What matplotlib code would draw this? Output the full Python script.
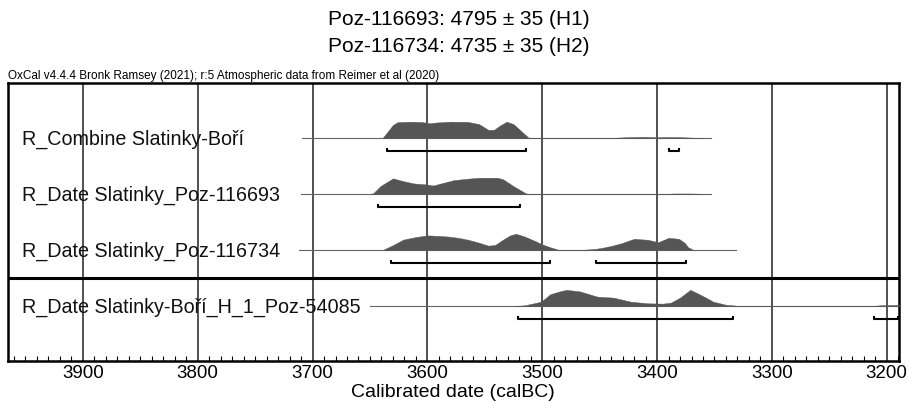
import matplotlib.pyplot as plt
from matplotlib.ticker import MultipleLocator

plt.rcParams["font.family"] = ["Liberation Sans", "DejaVu Sans"]

# Row labels (top to bottom)
labels = [
    "R_Combine Slatinky-Boří",
    "R_Date Slatinky_Poz-116693",
    "R_Date Slatinky_Poz-116734",
    "R_Date Slatinky-Boří_H_1_Poz-54085",
]

# Probability curves: calendar years BC and relative height
years_1 = [3639, 3635, 3630, 3626, 3615, 3605, 3598, 3592, 3580, 3565, 3555, 3547, 3542, 3537, 3531,
           3525, 3518, 3512, 3505, 3440, 3425, 3410, 3400, 3390, 3380, 3370, 3360]
dens_1 = [0, 0.35, 0.8, 0.97, 1.0, 0.98, 0.9, 0.95, 1.0, 0.99, 0.85, 0.5, 0.5, 0.75, 1.0,
          0.85, 0.4, 0.02, 0, 0, 0.05, 0.07, 0.04, 0.06, 0.05, 0.02, 0]

years_2 = [3650, 3647, 3641, 3630, 3621, 3612, 3600, 3595, 3588, 3577, 3565, 3554, 3539, 3534,
           3525, 3514, 3508, 3395, 3385, 3370, 3355]
dens_2 = [0, 0.05, 0.48, 0.96, 0.79, 0.65, 0.58, 0.52, 0.65, 0.85, 0.94, 1.0, 1.0, 0.9,
          0.48, 0.03, 0, 0, 0.03, 0.03, 0]

years_3 = [3639, 3630, 3621, 3610, 3600, 3590, 3582, 3573, 3565, 3555, 3547, 3541, 3535, 3528,
           3523, 3516, 3507, 3500, 3493, 3486, 3480, 3466, 3455, 3449, 3440, 3431, 3420, 3408,
           3399, 3390, 3381, 3376, 3373, 3368]
dens_3 = [0, 0.3, 0.64, 0.8, 0.9, 0.87, 0.83, 0.75, 0.64, 0.45, 0.27, 0.31, 0.6, 0.9,
          1.0, 0.85, 0.58, 0.35, 0.17, 0.02, 0, 0.01, 0.06, 0.12, 0.25, 0.42, 0.69, 0.63,
          0.48, 0.75, 0.69, 0.45, 0.17, 0]

years_4 = [3525, 3515, 3501, 3493, 3485, 3479, 3467, 3452, 3438, 3423, 3408, 3395, 3388, 3380,
           3371, 3362, 3351, 3340, 3333, 3327, 3215, 3205, 3195, 3189]
dens_4 = [0, 0.05, 0.27, 0.73, 0.9, 1.0, 0.9, 0.58, 0.52, 0.27, 0.17, 0.15, 0.21, 0.52,
          1.0, 0.69, 0.27, 0.08, 0.04, 0, 0, 0.05, 0.07, 0.07]

# Thin baseline extent for each row
spans = [(3709, 3353), (3710, 3353), (3712, 3331), (3650, 3189)]

# 95.4% ranges
ranges = [
    [(3635, 3514), (3390, 3381)],
    [(3643, 3519)],
    [(3632, 3493), (3453, 3375)],
    [(3521, 3334), (3211, 3190)],
]

title_lines = ["Poz-116693: 4795 ± 35 (H1)", "Poz-116734: 4735 ± 35 (H2)"]
credit = "OxCal v4.4.4 Bronk Ramsey (2021); r:5 Atmospheric data from Reimer et al (2020)"

curves = [(years_1, dens_1), (years_2, dens_2), (years_3, dens_3), (years_4, dens_4)]

fig = plt.figure(figsize=(9.08, 4.08), dpi=100)
ax = fig.add_axes([0.0083, 0.1152, 0.9818, 0.6814])

peak = 0.29       # height of a full curve in row units
drop = 0.23       # range bar below the baseline
cap = 0.05

for i, (yrs, d) in enumerate(curves):
    ax.plot(spans[i], [i, i], color="#666666", lw=0.8, zorder=2)
    ax.fill_between(yrs, i, [i - peak * v for v in d], color="#555555", lw=0.3,
                    edgecolor="#555555", zorder=3)
    for a, b in ranges[i]:
        yb = i + drop
        ax.plot([a, a, b, b], [yb - cap, yb, yb, yb - cap], color="black", lw=1.5,
                zorder=4, solid_capstyle="butt")
    ax.text(0.0163, i + 0.03, labels[i], transform=ax.get_yaxis_transform(),
            fontsize=14.2, va="center", ha="left", color="#111111", zorder=5)

ax.axhline(2.5, color="black", lw=2.2, zorder=4)

for yr in range(3900, 3100, -100):
    ax.axvline(yr, color="#222222", lw=1.1, zorder=1)

ax.set_xlim(3965.6, 3189.3)
ax.set_ylim(3.98, -0.98)
ax.set_yticks([])
ax.xaxis.set_major_locator(MultipleLocator(100))
ax.xaxis.set_minor_locator(MultipleLocator(10))
ax.tick_params(axis="x", which="major", direction="in", length=0, labelsize=13.5, pad=3)
ax.tick_params(axis="x", which="minor", direction="in", length=3.5, width=0.8)
ax.set_xlabel("Calibrated date (calBC)", fontsize=14, labelpad=1)
for s in ax.spines.values():
    s.set_linewidth(1.8)

fig.text(0.505, 0.953, title_lines[0], ha="center", va="center", fontsize=15)
fig.text(0.505, 0.886, title_lines[1], ha="center", va="center", fontsize=15)
ax.text(0.0, 1.003, credit, transform=ax.transAxes, ha="left", va="bottom", fontsize=8.5)

fig.savefig("out.png", dpi=100)
